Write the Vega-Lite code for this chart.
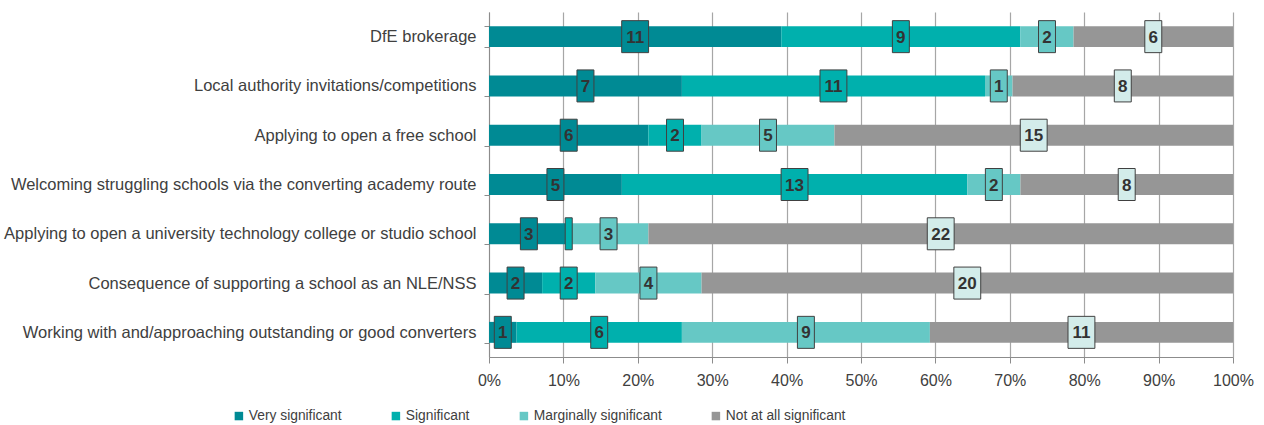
{
  "$schema": "https://vega.github.io/schema/vega-lite/v6.json",
  "autosize": "none",
  "width": 744,
  "height": 345,
  "padding": {"left": 489, "top": 12, "right": 31, "bottom": 68},
  "background": "white",
  "config": {
    "view": {"stroke": null},
    "font": "Liberation Sans"
  },
  "data": {
    "values": [
      {"q": "DfE brokerage", "cat": "Very significant", "k": 1, "n": 11},
      {"q": "DfE brokerage", "cat": "Significant", "k": 2, "n": 9},
      {"q": "DfE brokerage", "cat": "Marginally significant", "k": 3, "n": 2},
      {"q": "DfE brokerage", "cat": "Not at all significant", "k": 4, "n": 6},
      {"q": "Local authority invitations/competitions", "cat": "Very significant", "k": 1, "n": 7},
      {"q": "Local authority invitations/competitions", "cat": "Significant", "k": 2, "n": 11},
      {"q": "Local authority invitations/competitions", "cat": "Marginally significant", "k": 3, "n": 1},
      {"q": "Local authority invitations/competitions", "cat": "Not at all significant", "k": 4, "n": 8},
      {"q": "Applying to open a free school", "cat": "Very significant", "k": 1, "n": 6},
      {"q": "Applying to open a free school", "cat": "Significant", "k": 2, "n": 2},
      {"q": "Applying to open a free school", "cat": "Marginally significant", "k": 3, "n": 5},
      {"q": "Applying to open a free school", "cat": "Not at all significant", "k": 4, "n": 15},
      {"q": "Welcoming struggling schools via the converting academy route", "cat": "Very significant", "k": 1, "n": 5},
      {"q": "Welcoming struggling schools via the converting academy route", "cat": "Significant", "k": 2, "n": 13},
      {"q": "Welcoming struggling schools via the converting academy route", "cat": "Marginally significant", "k": 3, "n": 2},
      {"q": "Welcoming struggling schools via the converting academy route", "cat": "Not at all significant", "k": 4, "n": 8},
      {"q": "Applying to open a university technology college or studio school", "cat": "Very significant", "k": 1, "n": 3},
      {"q": "Applying to open a university technology college or studio school", "cat": "Significant", "k": 2, "n": 0},
      {"q": "Applying to open a university technology college or studio school", "cat": "Marginally significant", "k": 3, "n": 3},
      {"q": "Applying to open a university technology college or studio school", "cat": "Not at all significant", "k": 4, "n": 22},
      {"q": "Consequence of supporting a school as an NLE/NSS", "cat": "Very significant", "k": 1, "n": 2},
      {"q": "Consequence of supporting a school as an NLE/NSS", "cat": "Significant", "k": 2, "n": 2},
      {"q": "Consequence of supporting a school as an NLE/NSS", "cat": "Marginally significant", "k": 3, "n": 4},
      {"q": "Consequence of supporting a school as an NLE/NSS", "cat": "Not at all significant", "k": 4, "n": 20},
      {"q": "Working with and/approaching outstanding or good converters", "cat": "Very significant", "k": 1, "n": 1},
      {"q": "Working with and/approaching outstanding or good converters", "cat": "Significant", "k": 2, "n": 6},
      {"q": "Working with and/approaching outstanding or good converters", "cat": "Marginally significant", "k": 3, "n": 9},
      {"q": "Working with and/approaching outstanding or good converters", "cat": "Not at all significant", "k": 4, "n": 11}
    ]
  },
  "transform": [
    {"stack": "n", "groupby": ["q"], "sort": [{"field": "k", "order": "ascending"}], "offset": "normalize", "as": ["x0", "x1"]},
    {"calculate": "(datum.x0 + datum.x1) / 2", "as": "mid"},
    {"calculate": "datum.n > 0 ? '' + datum.n : ''", "as": "label"},
    {"calculate": "datum.n >= 10 ? 'w' : (datum.n > 0 ? 'm' : 'e')", "as": "bw"}
  ],
  "encoding": {
    "y": {
      "field": "q",
      "type": "nominal",
      "sort": null,
      "scale": {"paddingInner": 0.575, "paddingOuter": 0.2875},
      "axis": {
        "title": null,
        "labelFont": "Liberation Sans",
        "labelFontSize": 16.5,
        "labelColor": "#404040",
        "labelLimit": 600,
        "labelPadding": 8,
        "tickSize": 5,
        "tickBand": "extent",
        "tickColor": "#8c8c8c",
        "domainColor": "#8c8c8c",
        "grid": false
      }
    }
  },
  "layer": [
    {
      "mark": {"type": "bar"},
      "encoding": {
        "x": {
          "field": "x0",
          "type": "quantitative",
          "scale": {"domain": [0, 1], "nice": false},
          "axis": {
            "title": null,
            "format": ".0%",
            "values": [0, 0.1, 0.2, 0.3, 0.4, 0.5, 0.6, 0.7, 0.8, 0.9, 1],
            "labelFont": "Liberation Sans",
            "labelFontSize": 16,
            "labelColor": "#404040",
            "labelPadding": 9,
            "tickSize": 6,
            "tickColor": "#8c8c8c",
            "domainColor": "#8c8c8c",
            "grid": true,
            "gridColor": "#a6a6a6",
            "gridWidth": 1.2,
            "labelFlush": false
          }
        },
        "x2": {"field": "x1"},
        "color": {
          "field": "cat",
          "type": "nominal",
          "scale": {
            "domain": ["Very significant", "Significant", "Marginally significant", "Not at all significant"],
            "range": ["#008a94", "#00b0ad", "#66c8c5", "#969696"]
          },
          "legend": {
            "title": null,
            "orient": "none",
            "direction": "horizontal",
            "legendX": -257,
            "legendY": 397,
            "columns": 4,
            "columnPadding": 47,
            "padding": 0,
            "symbolType": "square",
            "symbolSize": 72,
            "symbolStrokeWidth": 0,
            "labelFont": "Liberation Sans",
            "labelFontSize": 13.8,
            "labelColor": "#404040",
            "labelOffset": 3,
            "labelLimit": 300
          }
        }
      }
    },
    {
      "mark": {"type": "point", "filled": true, "size": 1024, "stroke": "#404040", "strokeWidth": 1, "opacity": 1, "strokeOpacity": 1, "fillOpacity": 1},
      "encoding": {
        "x": {"field": "mid", "type": "quantitative"},
        "shape": {
          "field": "bw",
          "type": "nominal",
          "scale": {
            "domain": ["w", "m", "e"],
            "range": ["M-0.84,-1H0.84V1H-0.84Z", "M-0.53,-1H0.53V1H-0.53Z", "M-0.22,-1H0.22V1H-0.22Z"]
          },
          "legend": null
        },
        "fill": {
          "field": "cat",
          "type": "nominal",
          "scale": {
            "domain": ["Very significant", "Significant", "Marginally significant", "Not at all significant"],
            "range": ["#008a94", "#00b0ad", "#66c8c5", "#d3ecea"]
          },
          "legend": null
        }
      }
    },
    {
      "mark": {"type": "text", "font": "Liberation Sans", "fontWeight": "bold", "fontSize": 17, "color": "#333333", "baseline": "middle", "align": "center", "dy": 1},
      "encoding": {
        "x": {"field": "mid", "type": "quantitative"},
        "text": {"field": "label"}
      }
    }
  ],
  "resolve": {"scale": {"fill": "independent"}}
}
